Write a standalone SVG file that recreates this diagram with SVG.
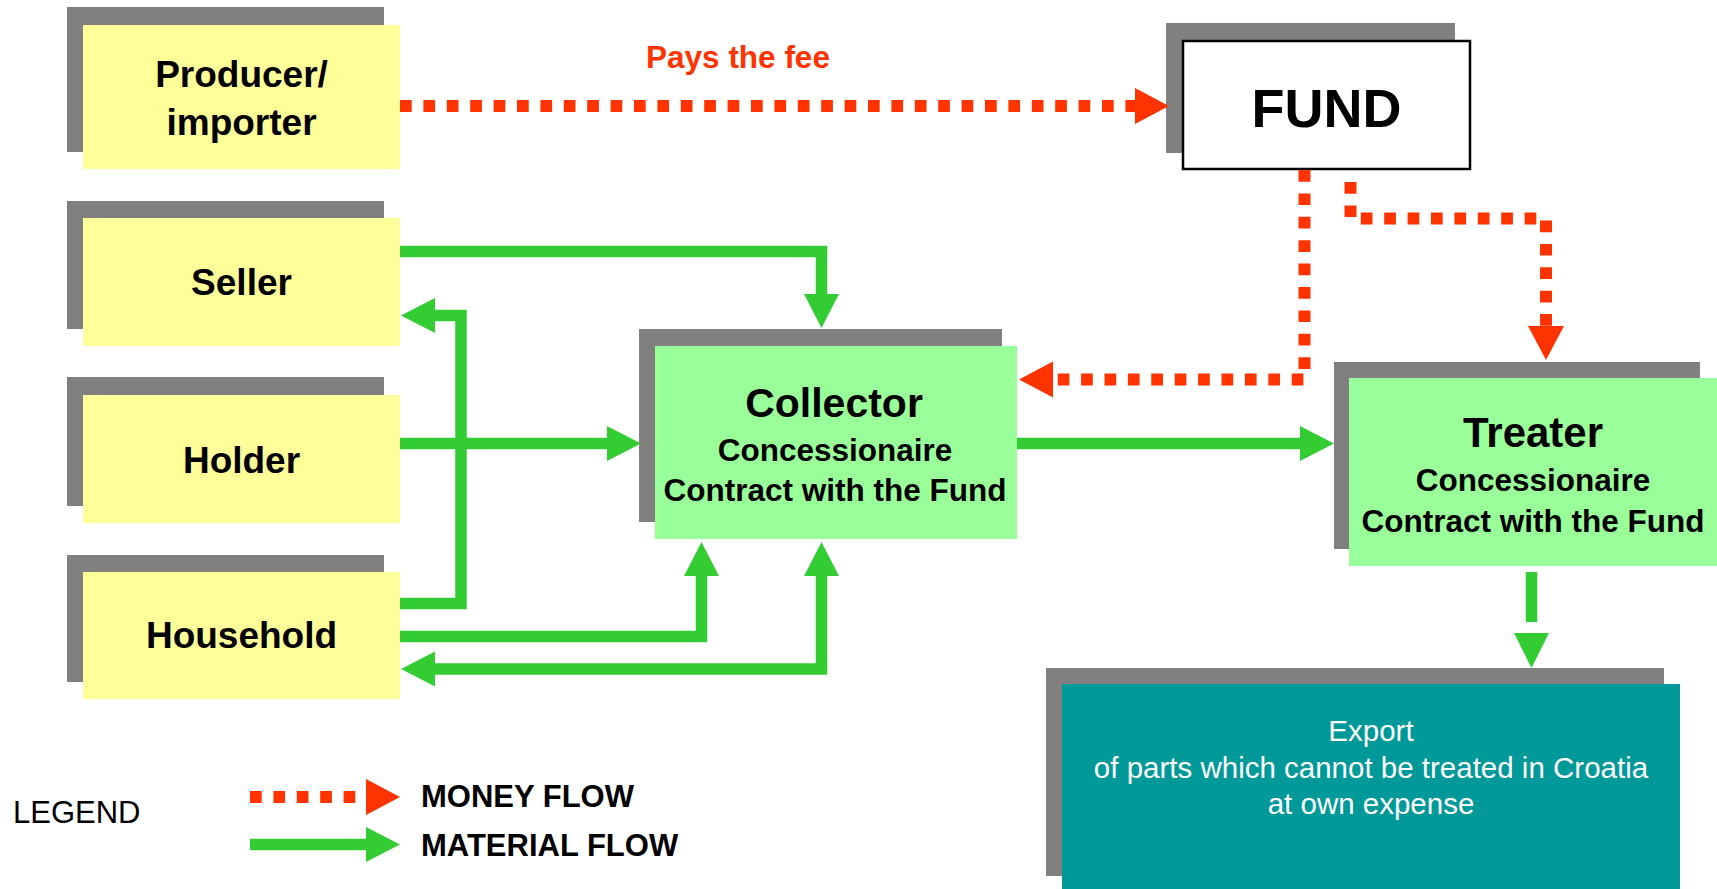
<svg xmlns="http://www.w3.org/2000/svg" width="1717" height="889" viewBox="0 0 1717 889">
<defs>
<style>
.shadow{fill:#808080}
.yellow{fill:#FFFF99}
.lgreen{fill:#99FF99}
.teal{fill:#009999}
.t{font-family:"Liberation Sans",Arial,sans-serif;text-anchor:middle;fill:#000}
.b{font-weight:bold}
.mat{fill:none;stroke:#33CC33;stroke-width:11.5;stroke-linejoin:miter}
.mon{fill:none;stroke:#FF3300;stroke-width:12;stroke-dasharray:11.7 11.7}
</style>
<marker id="ga" markerUnits="userSpaceOnUse" markerWidth="34" markerHeight="35" refX="0" refY="17.5" orient="auto-start-reverse" overflow="visible">
<path d="M0,0 L34,17.5 L0,35 Z" fill="#33CC33"/>
</marker>
<marker id="ra" markerUnits="userSpaceOnUse" markerWidth="34" markerHeight="36" refX="0" refY="18" orient="auto" overflow="visible">
<path d="M0,0 L34,18 L0,36 Z" fill="#FF3300"/>
</marker>
</defs>
<rect width="1717" height="889" fill="#fff"/>

<g id="producer">
<rect class="shadow" x="67" y="7" width="317" height="145"/>
<rect class="yellow" x="83" y="25" width="317" height="144"/>
<text class="t b" x="241.5" y="87" font-size="37">Producer/</text>
<text class="t b" x="241.5" y="135" font-size="37">importer</text>
</g>
<g id="seller">
<rect class="shadow" x="67" y="201" width="317" height="128"/>
<rect class="yellow" x="83" y="218" width="317" height="128"/>
<text class="t b" x="241.5" y="295" font-size="37">Seller</text>
</g>
<g id="holder">
<rect class="shadow" x="67" y="377" width="317" height="129"/>
<rect class="yellow" x="83" y="395" width="317" height="128"/>
<text class="t b" x="241.5" y="473" font-size="37">Holder</text>
</g>
<g id="household">
<rect class="shadow" x="67" y="555" width="317" height="127"/>
<rect class="yellow" x="83" y="572" width="317" height="127"/>
<text class="t b" x="241.5" y="648" font-size="37">Household</text>
</g>
<g id="fund">
<rect class="shadow" x="1166" y="23" width="289" height="130"/>
<rect x="1183" y="41" width="287" height="128" fill="#fff" stroke="#000" stroke-width="2.5"/>
<text class="t b" x="1326.5" y="127" font-size="54">FUND</text>
</g>
<g id="collector">
<rect class="shadow" x="639" y="329" width="363" height="193"/>
<rect class="lgreen" x="655" y="346" width="362" height="193"/>
<text class="t b" x="834" y="417" font-size="41">Collector</text>
<text class="t b" x="835" y="461" font-size="31.5">Concessionaire</text>
<text class="t b" x="835" y="501" font-size="31.5">Contract with the Fund</text>
</g>
<g id="treater">
<rect class="shadow" x="1334" y="362" width="366" height="187"/>
<rect class="lgreen" x="1349" y="378" width="368" height="188"/>
<text class="t b" x="1533" y="447" font-size="42">Treater</text>
<text class="t b" x="1533" y="491" font-size="31.5">Concessionaire</text>
<text class="t b" x="1533" y="532" font-size="31.5">Contract with the Fund</text>
</g>
<g id="export">
<rect class="shadow" x="1046" y="668" width="618" height="208"/>
<rect class="teal" x="1062" y="684" width="618" height="205"/>
<text class="t" x="1371" y="741" font-size="29.5" fill="#fff" style="fill:#fff">Export</text>
<text class="t" x="1371" y="778" font-size="29.5" style="fill:#fff">of parts which cannot be treated in Croatia</text>
<text class="t" x="1371" y="814" font-size="29.5" style="fill:#fff">at own expense</text>
</g>

<g id="connectors">
<path class="mon" d="M400,106 H1135" marker-end="url(#ra)"/>
<path class="mon" d="M1304.5,170 V379.5 H1053" marker-end="url(#ra)"/>
<path class="mon" d="M1350.5,182 V218.5 H1546 V326" marker-end="url(#ra)"/>
<path class="mat" d="M400,251.5 H821.5 V294" marker-end="url(#ga)"/>
<path class="mat" d="M400,603.5 H461 V315.5 H435" marker-end="url(#ga)"/>
<path class="mat" d="M400,443.5 H607" marker-end="url(#ga)"/>
<path class="mat" d="M400,636.5 H701.5 V576" marker-end="url(#ga)"/>
<path class="mat" d="M821.5,576 V669 H435" marker-start="url(#ga)" marker-end="url(#ga)"/>
<path class="mat" d="M1017,443.5 H1300" marker-end="url(#ga)"/>
<path class="mat" d="M1531.5,572 V622"/>
<polygon points="1514,633 1549,633 1531.5,668" fill="#33CC33"/>
</g>

<g id="legend">
<text x="13" y="823" font-family="Liberation Sans, Arial, sans-serif" font-size="31" fill="#000">LEGEND</text>
<path class="mon" d="M250,797 H366" marker-end="url(#ra)"/>
<path class="mat" d="M250,844.5 H366" marker-end="url(#ga)"/>
<text x="421" y="807" font-family="Liberation Sans, Arial, sans-serif" font-weight="bold" font-size="31" fill="#000">MONEY FLOW</text>
<text x="421" y="856" font-family="Liberation Sans, Arial, sans-serif" font-weight="bold" font-size="31" fill="#000">MATERIAL FLOW</text>
</g>
<text class="t b" x="738" y="68" font-size="31.5" style="fill:#FF3300">Pays the fee</text>
</svg>
